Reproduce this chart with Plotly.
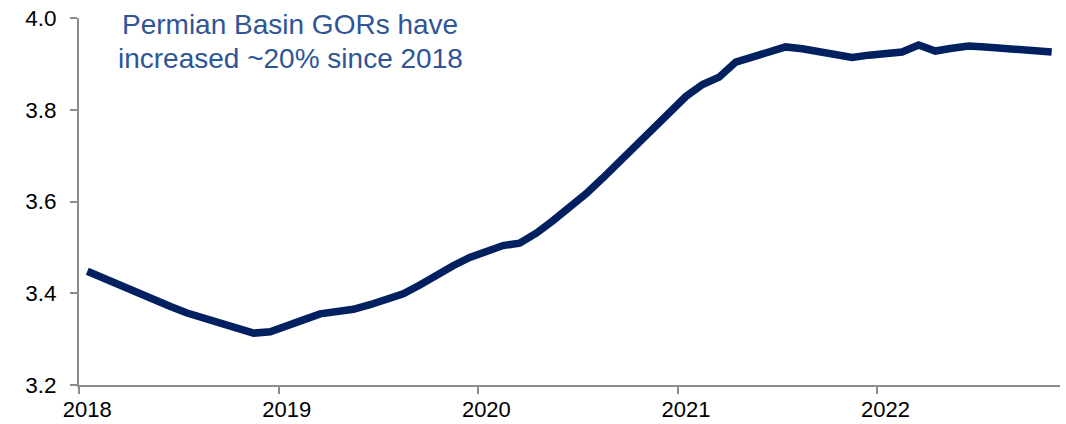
import plotly.graph_objects as go

months = [f"{y}-{m:02d}" for y in range(2018, 2023) for m in range(1, 13)][:59]
gor = [
    3.448, 3.432, 3.415, 3.399, 3.386, 3.371, 3.357, 3.345, 3.336, 3.324, 3.313, 3.316,
    3.331, 3.342, 3.355, 3.360, 3.365, 3.375, 3.385, 3.399, 3.418, 3.440, 3.460, 3.478,
    3.492, 3.504, 3.509, 3.531, 3.558, 3.585, 3.617, 3.651, 3.687, 3.723, 3.760, 3.791,
    3.829, 3.855, 3.871, 3.904, 3.916, 3.927, 3.937, 3.933, 3.927, 3.919, 3.914, 3.919,
    3.922, 3.926, 3.941, 3.928, 3.934, 3.939, 3.937, 3.935, 3.932, 3.929, 3.926,
]
year_labels = ["2018", "2019", "2020", "2021", "2022"]
y_ticks = [3.2, 3.4, 3.6, 3.8, 4.0]
annotation_lines = ["Permian Basin GORs have", "increased ~20% since 2018"]

idx = list(range(len(months)))
label_pos = [idx[months.index(f"{y}-01")] for y in year_labels]
tick_pos = [p - 0.5 for p in label_pos]

fig = go.Figure()
fig.add_trace(go.Scatter(
    x=idx, y=gor, mode="lines",
    line=dict(color="#002060", width=7.5),
    customdata=months, hovertemplate="%{customdata}: %{y:.3f}<extra></extra>",
    showlegend=False,
))

axis_grey = "#8c8c8c"
W, H = 1066, 424
L, R, T, B = 79, 6, 18, 39
plot_w, plot_h = W - L - R, H - T - B
font_family = "Liberation Sans, Arial, sans-serif"

annots = []
for line_text, ypix in zip(annotation_lines, [25, 58]):
    annots.append(dict(
        text=line_text, xref="paper", yref="paper",
        x=(290 - L) / plot_w, y=1 - (ypix - T) / plot_h,
        xanchor="center", yanchor="middle", showarrow=False,
        font=dict(family=font_family, size=28, color="#2f5597"),
    ))

fig.update_layout(
    width=W, height=H,
    margin=dict(l=L, r=R, t=T, b=B, autoexpand=False),
    paper_bgcolor="white", plot_bgcolor="white",
    font=dict(family=font_family, size=22.5, color="black"),
    xaxis=dict(
        range=[-0.5, len(months) - 0.5], automargin=False,
        tickmode="array", tickvals=label_pos, ticktext=year_labels,
        ticks="", showgrid=False, zeroline=False,
        showline=True, linecolor=axis_grey, linewidth=2,
        tickfont=dict(size=22),
        ticklabelstandoff=4, ticklabeloverflow="allow",
        minor=dict(tickmode="array", tickvals=tick_pos, ticks="outside",
                   ticklen=7, tickcolor=axis_grey, tickwidth=1.5, showgrid=False),
        fixedrange=True,
    ),
    yaxis=dict(
        range=[3.2, 4.0], automargin=False, tickmode="array", tickvals=y_ticks,
        tickformat=".1f", ticks="outside", ticklen=7, tickcolor=axis_grey, tickwidth=1.5,
        showgrid=False, zeroline=False,
        showline=True, linecolor=axis_grey, linewidth=2,
        ticklabelstandoff=9, ticklabeloverflow="allow",
        fixedrange=True,
    ),
    annotations=annots,
)

fig.write_html(
    "out.html",
    config={"displayModeBar": False},
    post_script="document.body.style.margin='0';document.body.style.overflow='hidden';",
)
